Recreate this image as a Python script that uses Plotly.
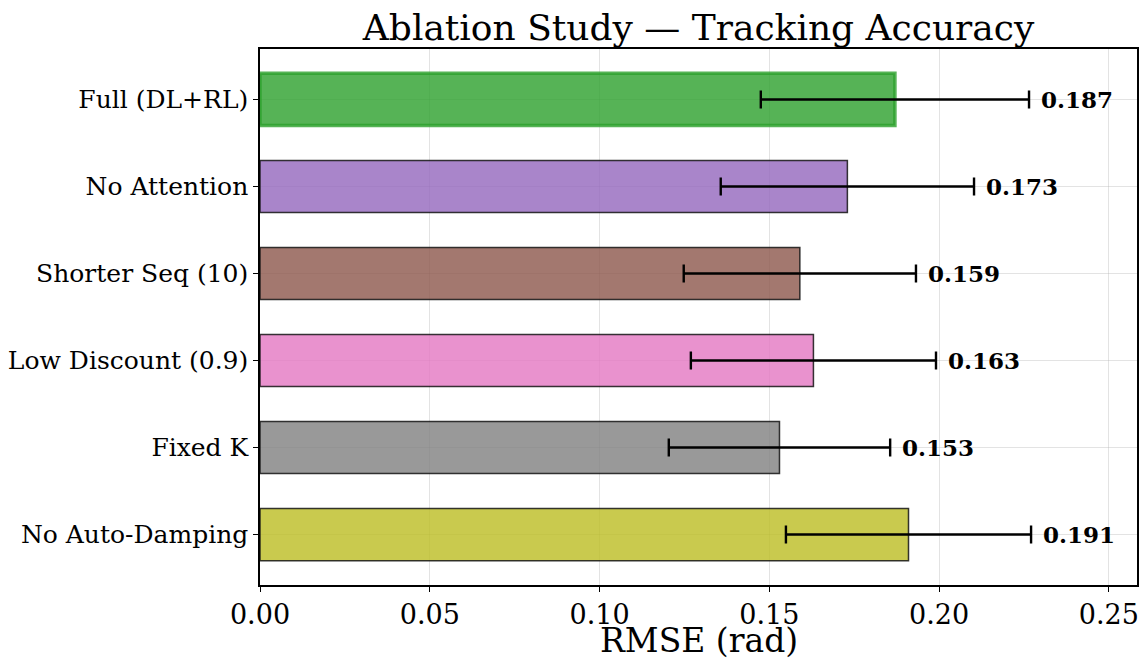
import plotly.graph_objects as go

variants = ["Full (DL+RL)", "No Attention", "Shorter Seq (10)", "Low Discount (0.9)", "Fixed K", "No Auto-Damping"]
rmse = [0.187, 0.173, 0.159, 0.163, 0.153, 0.191]
rmse_std = [0.0395, 0.0373, 0.0342, 0.0361, 0.0326, 0.0361]
fill_colors = ["rgba(44,160,44,0.8)", "rgba(148,103,189,0.8)", "rgba(140,86,75,0.8)",
               "rgba(227,119,194,0.8)", "rgba(127,127,127,0.8)", "rgba(188,189,34,0.8)"]
edge_colors = ["rgba(44,160,44,0.8)"] + ["rgba(20,20,20,0.85)"] * 5
edge_widths = [3.5] + [1.5] * 5

FONT = "DejaVu Serif"

fig = go.Figure()
fig.add_trace(go.Bar(
    y=variants, x=rmse, orientation="h", width=0.6,
    marker=dict(color=fill_colors, line=dict(color=edge_colors, width=edge_widths)),
    error_x=dict(type="data", array=rmse_std, visible=True, color="black",
                 thickness=2.4, width=9),
    showlegend=False,
))

for v, s, name in zip(rmse, rmse_std, variants):
    fig.add_annotation(x=v + s + 0.003, y=name, text=f"<b>{v:.3f}</b>", showarrow=False,
                       xanchor="left", yanchor="middle",
                       font=dict(family=FONT, size=23, color="black"))

# x-axis title
fig.add_annotation(xref="paper", yref="paper", x=0.5, y=-0.104, text="RMSE (rad)",
                   showarrow=False, xanchor="center", yanchor="middle",
                   font=dict(family=FONT, size=33, color="black"))

n = len(variants)
fig.update_layout(
    width=1148, height=659,
    margin=dict(l=260, r=11, t=49, b=74, autoexpand=False),
    paper_bgcolor="white", plot_bgcolor="white",
    title=dict(text="Ablation Study — Tracking Accuracy", x=0.6085, xanchor="center",
               yref="container", y=0.959, yanchor="middle",
               font=dict(family=FONT, size=36, color="black")),
    font=dict(family=FONT, color="black"),
)
fig.update_xaxes(
    range=[0, 0.2583], tickvals=[0, 0.05, 0.10, 0.15, 0.20, 0.25], tickformat=".2f",
    tickfont=dict(family=FONT, size=27, color="black"),
    showline=True, linecolor="black", linewidth=1.5, mirror=True,
    ticks="outside", ticklen=5, tickcolor="black", tickwidth=1.2,
    showgrid=True, gridcolor="rgba(176,176,176,0.35)", gridwidth=1,
    zeroline=False, layer="above traces", automargin=False,
)
fig.update_yaxes(
    type="category", categoryorder="array", categoryarray=variants,
    range=[n - 1 + 0.58, -0.58],
    tickfont=dict(family=FONT, size=25, color="black"),
    showline=True, linecolor="black", linewidth=1.5, mirror=True,
    ticks="outside", ticklen=5, tickcolor="black", tickwidth=1.2,
    showgrid=True, gridcolor="rgba(176,176,176,0.35)", gridwidth=1,
    zeroline=False, layer="above traces", automargin=False,
)

fig.write_html("out.html", config={"displayModeBar": False},
               post_script="document.body.style.margin='0';document.body.style.overflow='hidden';")
